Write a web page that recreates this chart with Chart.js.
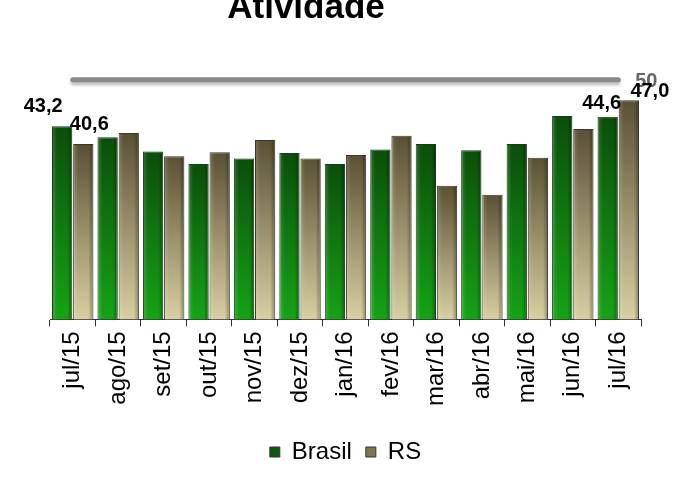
<!DOCTYPE html>
<html>
<head>
<meta charset="utf-8">
<script src="https://cdn.jsdelivr.net/npm/chart.js@4.4.1/dist/chart.umd.min.js"></script>
<style>
  body { margin: 0; background: #fff; }
  #wrap { width: 678px; height: 480px; }
</style>
</head>
<body>
<div id="wrap"><canvas id="chart" width="678" height="480"></canvas></div>
<script>
const months = ['jul/15','ago/15','set/15','out/15','nov/15','dez/15','jan/16','fev/16','mar/16','abr/16','mai/16','jun/16','jul/16'];
const brasil = [43.2, 41.6, 39.5, 37.7, 38.5, 39.3, 37.7, 39.8, 40.6, 39.7, 40.6, 44.7, 44.6];
const rs     = [40.6, 42.2, 38.8, 39.4, 41.2, 38.5, 39.0, 41.8, 34.5, 33.2, 38.6, 42.8, 47.0];
const linha50 = [50, 50, 50, 50, 50, 50, 50, 50, 50, 50, 50, 50, 50];
const labeled = [0, 12]; // indices com rótulo de valor

const FONT = 'Liberation Sans, Arial, sans-serif';
const legendColors = ['#0b5a0b', '#7d7455'];

// gradiente vertical por barra, do topo da barra até a base
function barFill(top, bottom, fallback) {
  return (c) => {
    const chart = c.chart;
    if (!chart.chartArea || c.raw === undefined) return fallback;
    const y = chart.scales.y.getPixelForValue(c.raw);
    const g = chart.ctx.createLinearGradient(0, y, 0, chart.chartArea.bottom);
    g.addColorStop(0, top);
    g.addColorStop(1, bottom);
    return g;
  };
}

const fmt = v => v.toFixed(1).replace('.', ',');

const titlePlugin = {
  id: 'titulo',
  afterDraw(chart) {
    const ctx = chart.ctx;
    ctx.save();
    ctx.font = 'bold 35px ' + FONT;
    ctx.fillStyle = '#000';
    ctx.textAlign = 'center';
    ctx.textBaseline = 'alphabetic';
    ctx.fillText('Atividade', 306, 18);
    ctx.restore();
  }
};

// sombra na linha de 50
const shadowPlugin = {
  id: 'sombra',
  beforeDatasetDraw(chart, args) {
    if (args.index !== 2) return;
    const ctx = chart.ctx;
    ctx.save();
    ctx.shadowColor = 'rgba(0,0,0,0.25)';
    ctx.shadowOffsetY = 3;
    ctx.shadowBlur = 3;
  },
  afterDatasetDraw(chart, args) {
    if (args.index !== 2) return;
    chart.ctx.restore();
  }
};

// brilho lateral nas barras
const bevelPlugin = {
  id: 'bevel',
  afterDatasetDraw(chart, args) {
    if (args.index > 1) return;
    const ctx = chart.ctx;
    const bottom = chart.chartArea.bottom;
    args.meta.data.forEach(bar => {
      const w = bar.width, x0 = bar.x - w / 2;
      const b = Math.min(bar.base, bottom);
      const g = ctx.createLinearGradient(x0, 0, x0 + w, 0);
      g.addColorStop(0, 'rgba(255,255,255,0.18)');
      g.addColorStop(0.25, 'rgba(255,255,255,0)');
      g.addColorStop(0.75, 'rgba(0,0,0,0)');
      g.addColorStop(1, 'rgba(0,0,0,0.35)');
      ctx.save();
      ctx.fillStyle = g;
      ctx.fillRect(x0 + 1, bar.y + 1, w - 2, b - bar.y - 1);
      ctx.restore();
    });
  }
};

const valueLabels = {
  id: 'rotulos',
  afterDraw(chart) {
    const ctx = chart.ctx;
    const offs = [[[-19, -14], [-6, -8]], [[6, -14], [21, -3]]];
    ctx.save();
    ctx.font = 'bold 20px ' + FONT;
    ctx.textAlign = 'center';
    ctx.textBaseline = 'alphabetic';
    // "50" da linha
    const lm = chart.getDatasetMeta(2);
    const lp = lm.data[lm.data.length - 1];
    ctx.fillStyle = '#666';
    ctx.fillText(String(linha50[linha50.length - 1]), lp.x + 28, lp.y + 7);
    ctx.fillStyle = '#000';
    [0, 1].forEach(d => {
      const meta = chart.getDatasetMeta(d);
      labeled.forEach((i, k) => {
        const bar = meta.data[i];
        const v = chart.data.datasets[d].data[i];
        ctx.fillText(fmt(v), bar.x + offs[d][k][0], bar.y + offs[d][k][1]);
      });
    });
    ctx.restore();
  }
};

new Chart(document.getElementById('chart'), {
  type: 'bar',
  data: {
    labels: months,
    datasets: [
      {
        label: 'Brasil',
        data: brasil,
        backgroundColor: barFill('#0a4e0a', '#16a316', '#0c5e0c'),
        borderColor: '#1c3a1c',
        borderWidth: 1,
        categoryPercentage: 0.93,
        barPercentage: 0.96,
        order: 2
      },
      {
        label: 'RS',
        data: rs,
        backgroundColor: barFill('#5a5034', '#d9cfa2', '#8a8062'),
        borderColor: '#3c3726',
        borderWidth: 1,
        categoryPercentage: 0.93,
        barPercentage: 0.96,
        order: 2
      },
      {
        type: 'line',
        label: '50',
        data: linha50,
        borderColor: '#8a8a8a',
        borderWidth: 5,
        borderCapStyle: 'round',
        pointRadius: 0,
        fill: false,
        clip: false,
        order: 1
      }
    ]
  },
  options: {
    responsive: false,
    animation: false,
    layout: { padding: { left: 50, right: 37, top: 66, bottom: 6 } },
    plugins: {
      title: { display: false },
      tooltip: { enabled: false },
      legend: {
        position: 'bottom',
        labels: {
          filter: item => item.datasetIndex < 2,
          generateLabels(chart) {
            const items = Chart.defaults.plugins.legend.labels.generateLabels(chart);
            items.forEach(it => {
              if (it.datasetIndex < 2) {
                it.fillStyle = legendColors[it.datasetIndex];
                it.strokeStyle = '#333';
                it.lineWidth = 1;
              }
            });
            return items;
          },
          boxWidth: 10,
          boxHeight: 10,
          padding: 14,
          color: '#000',
          font: { family: FONT, size: 24 }
        }
      }
    },
    scales: {
      x: {
        afterFit(scale) { scale.height += 15; },
        ticks: {
          autoSkip: false,
          minRotation: 90,
          maxRotation: 90,
          padding: 5,
          color: '#000',
          font: { family: FONT, size: 24 }
        },
        grid: { display: true, drawOnChartArea: false, drawTicks: true, tickLength: 7, color: '#333', offset: true },
        border: { display: true, color: '#333', width: 1 }
      },
      y: { display: false, min: 15, max: 52 }
    }
  },
  plugins: [titlePlugin, shadowPlugin, bevelPlugin, valueLabels]
});
</script>
</body>
</html>
